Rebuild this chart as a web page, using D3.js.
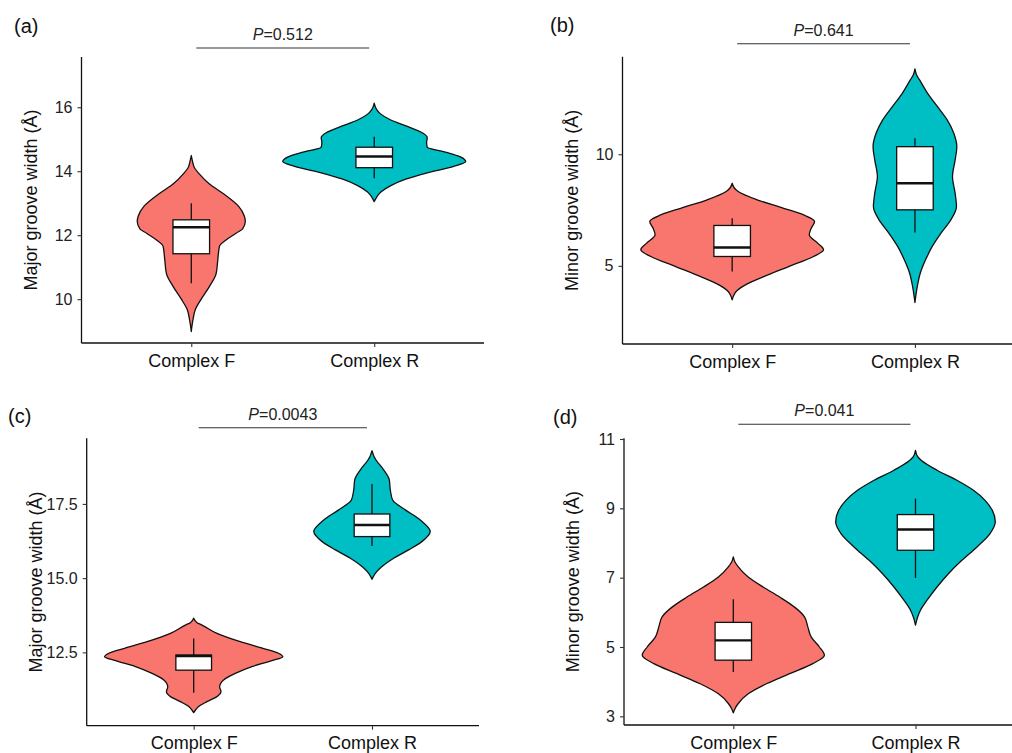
<!DOCTYPE html>
<html>
<head>
<meta charset="utf-8">
<script src="https://cdn.jsdelivr.net/npm/d3@7"></script>
<style>
  html, body { margin: 0; padding: 0; background: #fff; }
  svg { display: block; font-family: "Liberation Sans", Arial, sans-serif; }
</style>
</head>
<body>
<svg id="chart" width="1012" height="753"></svg>
<script>
// Groups compared in every panel
const categories = ["Complex F", "Complex R"];
const groupColors = ["#F8766D", "#00BFC4"];

const panelLabels = ["(a)", "(b)", "(c)", "(d)"];
const yTitles = [
  "Major groove width (\u00C5)",
  "Minor groove width (\u00C5)",
  "Major groove width (\u00C5)",
  "Minor groove width (\u00C5)"
];
const pValues = ["0.512", "0.641", "0.0043", "0.041"];
const yTicks = [[10, 12, 14, 16], [5, 10], [12.5, 15.0, 17.5], [3, 5, 7, 9, 11]];
const yTickFormats = ["d", "d", ".1f", "d"];
const yDomains = [[8.63, 17.57], [1.5, 14.37], [10.03, 19.71], [2.75, 11.02]];

// Violin outlines: [groove width, relative kernel density]
const violinAF = [[14.49,0],[14.30,4],[14.10,10],[13.94,22],[13.60,55],[13.31,95],[12.90,143],[12.60,160],[12.43,163],[12.20,155],[12.06,135],[11.85,105],[11.65,85],[11.23,80],[10.80,75],[10.40,55],[10.00,30],[9.67,12],[9.35,5],[8.99,0]];
const violinAR = [[16.125,0],[15.95,6],[15.80,18],[15.60,50],[15.40,100],[15.20,145],[15.05,160],[14.90,158],[14.75,160],[14.60,215],[14.45,260],[14.30,276],[14.15,240],[13.95,160],[13.75,95],[13.55,50],[13.35,20],[13.20,8],[13.05,0]];
const violinBF = [[8.70,0],[8.50,6],[8.33,18],[7.96,75],[7.58,155],[7.28,215],[6.99,248],[6.69,238],[6.39,232],[6.01,258],[5.72,275],[5.42,245],[4.97,170],[4.52,95],[4.15,40],[3.85,12],[3.65,4],[3.48,0]];
const violinBR = [[13.82,0],[13.55,5],[13.33,14],[12.73,38],[12.13,68],[11.54,97],[10.94,117],[10.34,126],[9.75,121],[9.00,113],[8.25,121],[7.66,125],[7.06,108],[6.46,78],[5.87,52],[5.27,32],[4.67,16],[4.07,7],[3.36,0]];
const violinCF = [[13.65,0],[13.50,10],[13.42,25],[13.14,70],[12.86,140],[12.63,210],[12.47,255],[12.35,268],[12.22,235],[12.02,175],[11.79,125],[11.57,90],[11.34,78],[11.17,82],[11.01,70],[10.84,40],[10.67,14],[10.55,5],[10.47,0]];
const violinCR = [[19.29,0],[19.10,6],[18.98,12],[18.65,35],[18.31,52],[17.97,55],[17.63,62],[17.30,100],[16.96,145],[16.57,175],[16.23,150],[15.95,110],[15.67,65],[15.39,30],[15.16,10],[15.05,4],[14.96,0]];
const violinDF = [[7.60,0],[7.45,5],[7.31,15],[7.02,45],[6.73,90],[6.44,140],[6.15,185],[5.87,215],[5.58,225],[5.29,235],[5.00,260],[4.76,275],[4.52,240],[4.23,170],[3.94,100],[3.65,45],[3.37,15],[3.22,5],[3.10,0]];
const violinDR = [[10.67,0],[10.50,6],[10.38,18],[10.10,65],[9.81,125],[9.52,175],[9.23,210],[8.94,232],[8.61,241],[8.27,225],[7.88,185],[7.50,140],[7.12,100],[6.73,65],[6.35,35],[6.06,15],[5.85,6],[5.63,0]];

// Box summaries: [lower whisker, Q1, median, Q3, upper whisker]
const boxAF = [10.50, 11.42, 12.25, 12.48, 13.00];
const boxAR = [13.78, 14.11, 14.46, 14.75, 15.08];
const boxBF = [4.75, 5.42, 5.82, 6.81, 7.13];
const boxBR = [6.49, 7.51, 8.70, 10.34, 10.72];
const boxCF = [11.14, 11.90, 12.38, 12.41, 12.97];
const boxCR = [16.08, 16.40, 16.79, 17.16, 18.17];
const boxDF = [4.28, 4.62, 5.19, 5.71, 6.38];
const boxDR = [6.99, 7.79, 8.39, 8.82, 9.28];

const violins = [[violinAF, violinAR], [violinBF, violinBR], [violinCF, violinCR], [violinDF, violinDR]];
const boxes = [[boxAF, boxAR], [boxBF, boxBR], [boxCF, boxCR], [boxDF, boxDR]];

// Plot frames for the four panels (pixel extents of the axes)
const frames = [
  { x0: 81.5, x1: 484,    yTop: 57,    yBot: 343,   label: [14, 33],   sig: 48,    },
  { x0: 622.5, x1: 1024.6, yTop: 56.7, yBot: 344,   label: [550, 32],  sig: 43.7,  },
  { x0: 86.7, x1: 479,    yTop: 438.3, yBot: 725.7, label: [8, 423],   sig: 427.7, },
  { x0: 624,  x1: 1024.8, yTop: 438.3, yBot: 725,   label: [553, 424], sig: 424.3, }
];

const svg = d3.select("#chart");
svg.append("rect").attr("width", 1012).attr("height", 753).attr("fill", "#fff");

frames.forEach((f, i) => {
  const g = svg.append("g");

  const x = d3.scalePoint().domain(categories).range([f.x0, f.x1]).padding(0.6);
  const y = d3.scaleLinear().domain(yDomains[i]).range([f.yBot, f.yTop]);
  const step = x.step();

  const maxDensity = d3.max(violins[i], v => d3.max(v, d => d[1]));
  const w = d3.scaleLinear().domain([0, maxDensity]).range([0, step * 0.5]);

  // violins
  violins[i].forEach((profile, k) => {
    const cx = x(categories[k]);
    const area = d3.area()
      .y(d => y(d[0]))
      .x0(d => cx - w(d[1]))
      .x1(d => cx + w(d[1]))
      .curve(d3.curveMonotoneY);
    const sorted = profile.slice().sort((a, b) => a[0] - b[0]);
    g.append("path")
      .attr("d", area(sorted))
      .attr("fill", groupColors[k])
      .attr("stroke", "#111")
      .attr("stroke-width", 1.3)
      .attr("stroke-linejoin", "round");
  });

  // box plots
  const bw = step * 0.2;
  boxes[i].forEach((b, k) => {
    const cx = x(categories[k]);
    const [lo, q1, med, q3, hi] = b;
    g.append("line").attr("x1", cx).attr("x2", cx).attr("y1", y(hi)).attr("y2", y(q3))
      .attr("stroke", "#111").attr("stroke-width", 1.3);
    g.append("line").attr("x1", cx).attr("x2", cx).attr("y1", y(q1)).attr("y2", y(lo))
      .attr("stroke", "#111").attr("stroke-width", 1.3);
    g.append("rect")
      .attr("x", cx - bw / 2).attr("width", bw)
      .attr("y", y(q3)).attr("height", y(q1) - y(q3))
      .attr("fill", "#fff").attr("stroke", "#111").attr("stroke-width", 1.3);
    g.append("line").attr("x1", cx - bw / 2).attr("x2", cx + bw / 2)
      .attr("y1", y(med)).attr("y2", y(med))
      .attr("stroke", "#111").attr("stroke-width", 2.4);
  });

  // axes
  const yAxis = d3.axisLeft(y).tickValues(yTicks[i]).tickFormat(d3.format(yTickFormats[i]))
    .tickSize(4).tickPadding(5);
  const ya = g.append("g").attr("transform", `translate(${f.x0},0)`).call(yAxis);
  ya.select(".domain").attr("d", `M0,${f.yTop}V${f.yBot}`).attr("stroke", "#111").attr("stroke-width", 1.3);
  ya.selectAll(".tick line").attr("stroke", "#333").attr("stroke-width", 1.1);
  ya.selectAll(".tick text").attr("fill", "#222").style("font-size", "16px");

  const xAxis = d3.axisBottom(x).tickSize(4).tickPadding(7);
  const xa = g.append("g").attr("transform", `translate(0,${f.yBot})`).call(xAxis);
  xa.select(".domain").attr("d", `M${f.x0},0H${f.x1}`).attr("stroke", "#111").attr("stroke-width", 1.3);
  xa.selectAll(".tick line").attr("stroke", "#333").attr("stroke-width", 1.1);
  xa.selectAll(".tick text").attr("fill", "#111").style("font-size", "18px");

  // y-axis title
  g.append("text")
    .attr("transform", `translate(${f.x0 - 45},${(f.yTop + f.yBot) / 2}) rotate(-90)`)
    .attr("text-anchor", "middle")
    .attr("fill", "#111")
    .style("font-size", "18px")
    .text(yTitles[i]);

  // panel tag
  g.append("text")
    .attr("x", f.label[0]).attr("y", f.label[1])
    .attr("fill", "#111")
    .style("font-size", "20px")
    .text(panelLabels[i]);

  // significance bracket
  const sx0 = x(categories[0]) + 5, sx1 = x(categories[1]) - 5;
  g.append("line").attr("x1", sx0).attr("x2", sx1).attr("y1", f.sig).attr("y2", f.sig)
    .attr("stroke", "#333").attr("stroke-width", 1.1);
  const t = g.append("text")
    .attr("x", (sx0 + sx1) / 2).attr("y", f.sig - 8)
    .attr("text-anchor", "middle")
    .attr("fill", "#222")
    .style("font-size", "16px");
  t.append("tspan").style("font-style", "italic").text("P");
  t.append("tspan").text("=" + pValues[i]);
});
</script>
</body>
</html>
